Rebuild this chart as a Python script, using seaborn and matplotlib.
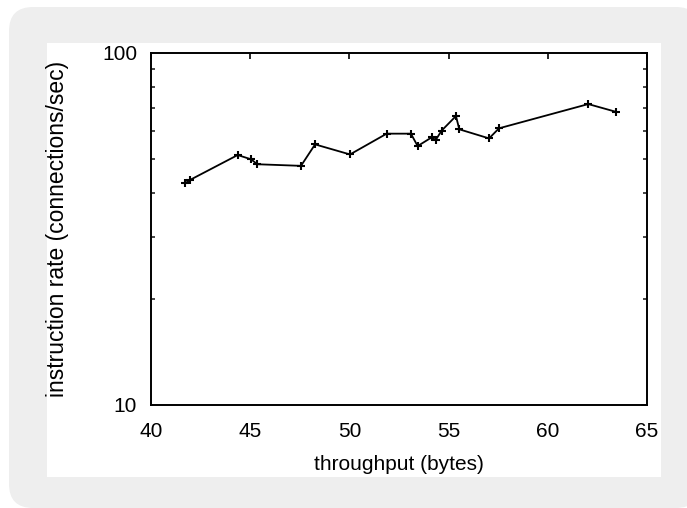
import matplotlib
matplotlib.use("Agg")
import matplotlib.pyplot as plt
from matplotlib.patches import FancyBboxPatch, Rectangle
from matplotlib.ticker import FixedLocator, FixedFormatter, NullFormatter
import seaborn as sns
import pandas as pd

throughput = [41.71, 41.97, 44.37, 45.04, 45.36, 47.56, 48.27, 50.03, 51.88, 53.10,
              53.44, 54.15, 54.35, 54.65, 55.37, 55.54, 57.04, 57.54, 62.04, 63.42]
rate = [42.6, 43.6, 51.3, 49.9, 48.3, 47.8, 55.0, 51.5, 59.0, 59.0,
        54.4, 57.6, 56.6, 60.2, 66.2, 60.7, 57.2, 61.1, 71.6, 68.1]
x_ticks = [40, 45, 50, 55, 60, 65]
y_ticks = [10, 100]
y_tick_labels = ["10", "100"]
y_minor = [20, 30, 40, 50, 60, 70, 80, 90]

df = pd.DataFrame({"throughput": throughput, "rate": rate})

sns.set_style("white")
plt.rcParams["font.family"] = ["Liberation Sans", "DejaVu Sans"]

W, H = 687, 508
fig = plt.figure(figsize=(W / 100, H / 100), dpi=100, facecolor="white")

bg = FancyBboxPatch((9 / W, 1 - 508 / H), (700 - 9) / W, (508 - 7) / H,
                    boxstyle="round,pad=0,rounding_size=0.035",
                    transform=fig.transFigure, facecolor="#eeeeee",
                    edgecolor="none", mutation_aspect=W / H, zorder=-2)
fig.patches.append(bg)
inner = Rectangle((47 / W, 1 - 477 / H), (661 - 47) / W, (477 - 43) / H,
                  transform=fig.transFigure, facecolor="white",
                  edgecolor="none", zorder=-1)
fig.patches.append(inner)

ax = fig.add_axes([151 / W, 1 - 405 / H, (647 - 151) / W, (405 - 53) / H])
ax.set_facecolor("white")
ax.patch.set_alpha(0)

sns.lineplot(data=df, x="throughput", y="rate", ax=ax, color="black",
             linewidth=1.3, marker="+", markersize=6, markeredgewidth=1.5,
             markeredgecolor="black", sort=False, estimator=None)

ax.set_yscale("log")
ax.set_xlim(40, 65)
ax.set_ylim(10, 100)
ax.xaxis.set_major_locator(FixedLocator(x_ticks))
ax.yaxis.set_major_locator(FixedLocator(y_ticks))
ax.yaxis.set_major_formatter(FixedFormatter(y_tick_labels))
ax.yaxis.set_minor_locator(FixedLocator(y_minor))
ax.yaxis.set_minor_formatter(NullFormatter())

for s in ax.spines.values():
    s.set_visible(True)
    s.set_color("black")
    s.set_linewidth(1.4)

ax.tick_params(axis="both", which="major", direction="in", length=4, width=1.2,
               top=True, right=True, labelsize=15, colors="black")
ax.tick_params(axis="y", which="minor", direction="in", length=3, width=1.2,
               left=True, right=True)
ax.tick_params(axis="y", which="major", pad=10)
ax.tick_params(axis="x", which="major", pad=12)

ax.set_xlabel("throughput (bytes)", fontsize=15, labelpad=10, color="black")
ax.set_ylabel("instruction rate (connections/sec)", fontsize=16.5, labelpad=24,
              color="black")

fig.savefig("out.png", dpi=100, facecolor="white")
